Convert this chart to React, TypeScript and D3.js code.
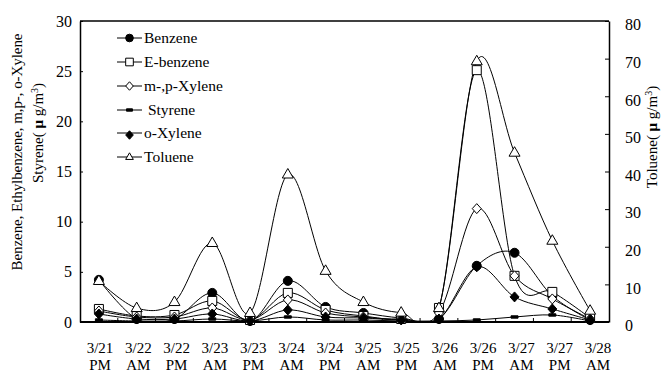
import { useEffect, useRef } from 'react';
import * as d3 from 'd3';

const dates = ['3/21', '3/22', '3/22', '3/23', '3/23', '3/24', '3/24', '3/25', '3/25', '3/26', '3/26', '3/27', '3/27', '3/28'];
const halves = ['PM', 'AM', 'PM', 'AM', 'PM', 'AM', 'PM', 'AM', 'PM', 'AM', 'PM', 'AM', 'PM', 'AM'];

const benzene = [4.2, 0.3, 0.3, 2.9, 0.1, 4.1, 1.5, 0.9, 0.4, 0.3, 5.6, 6.9, 2.6, 0.2];
const eBenzene = [1.3, 0.6, 0.7, 2.1, 0.2, 2.9, 1.2, 0.6, 0.3, 1.4, 25.1, 4.6, 3.0, 0.4];
const mpXylene = [1.1, 0.5, 0.5, 1.4, 0.2, 2.2, 0.9, 0.5, 0.3, 0.9, 11.3, 4.6, 2.3, 0.3];
const styrene = [0.2, 0.1, 0.1, 0.3, 0.1, 0.5, 0.2, 0.2, 0.1, 0.1, 0.2, 0.5, 0.7, 0.1];
const oXylene = [0.8, 0.3, 0.3, 0.8, 0.1, 1.2, 0.5, 0.4, 0.2, 0.3, 5.5, 2.5, 1.3, 0.2];
const toluene = [10.9, 3.7, 5.3, 21.0, 2.4, 39.2, 13.6, 5.3, 2.5, 3.7, 69.3, 45.0, 21.6, 3.0];

const leftTicks = [0, 5, 10, 15, 20, 25, 30];
const rightTicks = [0, 10, 20, 30, 40, 50, 60, 70, 80];

type Marker = 'circle' | 'square' | 'diamond' | 'dash' | 'fdiamond' | 'triangle';

const series: { name: string; values: number[]; marker: Marker; right: boolean }[] = [
	{ name: 'Benzene', values: benzene, marker: 'circle', right: false },
	{ name: 'E-benzene', values: eBenzene, marker: 'square', right: false },
	{ name: 'm-,p-Xylene', values: mpXylene, marker: 'diamond', right: false },
	{ name: ' Styrene', values: styrene, marker: 'dash', right: false },
	{ name: 'o-Xylene', values: oXylene, marker: 'fdiamond', right: false },
	{ name: 'Toluene', values: toluene, marker: 'triangle', right: true },
];

const FONT = '"Liberation Serif", "Times New Roman", serif';

const markerPath = (m: Marker, s = 1) => {
	switch (m) {
		case 'circle':
			return d3.symbol(d3.symbolCircle, 64 * s * s)()!;
		case 'square':
			return `M${-4.5 * s},${-4.5 * s}h${9 * s}v${9 * s}h${-9 * s}Z`;
		case 'diamond':
		case 'fdiamond':
			return `M0,${-5 * s}L${4.5 * s},0L0,${5 * s}L${-4.5 * s},0Z`;
		case 'triangle':
			return `M0,${-6 * s}L${5.5 * s},${3.5 * s}L${-5.5 * s},${3.5 * s}Z`;
		case 'dash':
			return `M${-3.5 * s},${-1.2}h${7 * s}v2.4h${-7 * s}Z`;
	}
};

const filled = (m: Marker) => m === 'circle' || m === 'fdiamond' || m === 'dash';

export default function App() {
	const svgRef = useRef<SVGSVGElement>(null);

	useEffect(() => {
		if (!svgRef.current) return;
		const svg = d3.select(svgRef.current);
		svg.selectAll('*').remove();

		const left = 80, right = 609, top = 21, bottom = 322;

		const x = d3.scaleBand<number>().domain(d3.range(dates.length)).range([left, right]);
		const cx = (i: number) => x(i)! + x.bandwidth() / 2;
		const xLabel = d3.scalePoint<number>().domain(d3.range(dates.length)).range([100, 598]);
		const yL = d3.scaleLinear().domain([0, 30]).range([bottom, top]);
		const yR = d3.scaleLinear().domain([0, 80]).range([bottom, top]);

		// clip the smoothed lines to the plot area
		svg
			.append('defs')
			.append('clipPath')
			.attr('id', 'plot-clip')
			.append('rect')
			.attr('x', left)
			.attr('y', top)
			.attr('width', right - left)
			.attr('height', bottom - top);

		// Left axis
		const gl = svg
			.append('g')
			.attr('transform', `translate(${left},0)`)
			.call(d3.axisLeft(yL).tickValues(leftTicks).tickSize(-3).tickSizeOuter(0).tickPadding(8).tickFormat(d3.format('d')));
		gl.selectAll('text').style('font-family', FONT).style('font-size', '16px').style('fill', '#000');
		gl.selectAll('line, path').attr('stroke', '#000');
		gl.select('.domain').attr('stroke-width', 1.5);

		// Right axis
		const gr = svg
			.append('g')
			.attr('transform', `translate(${right},0)`)
			.call(d3.axisRight(yR).tickValues(rightTicks).tickSize(-4).tickSizeOuter(0).tickPadding(16).tickFormat(d3.format('d')));
		gr.selectAll('text').style('font-family', FONT).style('font-size', '16px').style('fill', '#000').attr('dy', '0.55em');
		gr.selectAll('line, path').attr('stroke', '#000');
		gr.select('.domain').attr('stroke-width', 1.5);

		// Frame top and bottom
		svg.append('line').attr('x1', left).attr('x2', right).attr('y1', top).attr('y2', top).attr('stroke', '#000').attr('stroke-width', 1.5);
		svg.append('line').attr('x1', left).attr('x2', right).attr('y1', bottom).attr('y2', bottom).attr('stroke', '#000').attr('stroke-width', 2);

		// Bottom ticks at band boundaries
		svg
			.append('g')
			.selectAll('line')
			.data(d3.range(1, dates.length))
			.enter()
			.append('line')
			.attr('x1', (i) => x(i)!)
			.attr('x2', (i) => x(i)!)
			.attr('y1', bottom)
			.attr('y2', bottom - 4)
			.attr('stroke', '#000');

		// X labels
		const xl = svg
			.append('g')
			.selectAll('text')
			.data(d3.range(dates.length))
			.enter()
			.append('text')
			.attr('text-anchor', 'middle')
			.style('font-family', FONT)
			.style('font-size', '15px');
		xl.append('tspan').attr('x', (i) => xLabel(i)!).attr('y', 353).text((i) => dates[i]);
		xl.append('tspan').attr('x', (i) => xLabel(i)!).attr('y', 370).text((i) => halves[i]);

		// Lines
		const line = (s: (typeof series)[number]) =>
			d3
				.line<number>()
				.x((_, i) => cx(i))
				.y((v) => (s.right ? yR(v) : yL(v)))
				.curve(d3.curveCardinal)(s.values);

		const lines = svg.append('g').attr('clip-path', 'url(#plot-clip)');
		series.forEach((s) => {
			lines.append('path').attr('d', line(s)).attr('fill', 'none').attr('stroke', '#000').attr('stroke-width', 1);
		});

		// Markers
		series.forEach((s) => {
			svg
				.append('g')
				.selectAll('path')
				.data(s.values)
				.enter()
				.append('path')
				.attr('transform', (v, i) => `translate(${cx(i)},${s.right ? yR(v) : yL(v)})`)
				.attr('d', markerPath(s.marker))
				.attr('fill', filled(s.marker) ? '#000' : '#fff')
				.attr('stroke', '#000')
				.attr('stroke-width', 1);
		});

		// Legend
		const legendY = [38, 62, 86, 110, 133, 157];
		const lg = svg
			.append('g')
			.selectAll('g')
			.data(series)
			.enter()
			.append('g')
			.attr('transform', (_, i) => `translate(0,${legendY[i]})`);
		lg.append('line').attr('x1', 117).attr('x2', 142).attr('stroke', '#000').attr('stroke-width', 1);
		lg.append('path')
			.attr('transform', (d) => `translate(129.5,${d.marker === 'fdiamond' ? 2 : 0})`)
			.attr('d', (d) => markerPath(d.marker, d.marker === 'triangle' ? 0.7 : 0.85))
			.attr('fill', (d) => (filled(d.marker) ? '#000' : '#fff'))
			.attr('stroke', '#000')
			.attr('stroke-width', 1);
		lg.append('text')
			.attr('x', 144)
			.attr('dy', '0.35em')
			.style('font-family', FONT)
			.style('font-size', '15.5px')
			.style('white-space', 'pre')
			.text((d) => d.name);

		// Axis titles
		const t1 = svg.append('text').attr('transform', 'translate(22,152) rotate(-90)').attr('text-anchor', 'middle').style('font-family', FONT).style('font-size', '15px');
		t1.attr('textLength', 237).attr('lengthAdjust', 'spacing').text('Benzene, Ethylbenzene, m,p-, o-Xylene');

		const t2 = svg.append('text').attr('transform', 'translate(43,133) rotate(-90)').attr('text-anchor', 'middle').style('font-family', FONT).style('font-size', '15px');
		t2.append('tspan').text('Styrene( ');
		t2.append('tspan').style('font-weight', 'bold').text('μ');
		t2.append('tspan').text(' g/m');
		t2.append('tspan').attr('dy', -5).style('font-size', '10px').text('3');
		t2.append('tspan').attr('dy', 5).text(')');

		const t3 = svg.append('text').attr('transform', 'translate(657,137) rotate(-90)').attr('text-anchor', 'middle').style('font-family', FONT).style('font-size', '15px');
		t3.append('tspan').text('Toluene( ');
		t3.append('tspan').style('font-weight', 'bold').text('μ');
		t3.append('tspan').text(' g/m');
		t3.append('tspan').attr('dy', -5).style('font-size', '10px').text('3');
		t3.append('tspan').attr('dy', 5).text(')');
	}, []);

	return (
		<svg
			ref={svgRef}
			width={667}
			height={372}
			style={{ position: 'absolute', left: 0, top: 0, background: '#fff', display: 'block' }}
		></svg>
	);
}
